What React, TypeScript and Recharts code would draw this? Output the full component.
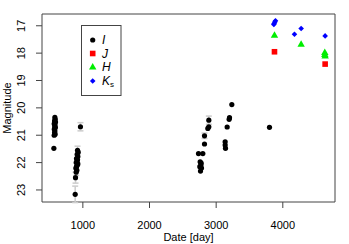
import { ScatterChart, Scatter, XAxis, YAxis, ErrorBar, ReferenceArea } from 'recharts';

// photometry (date in days, magnitude)
const iBand = [
  { date: 580, mag: 20.35 }, { date: 585, mag: 20.42 }, { date: 575, mag: 20.48 },
  { date: 590, mag: 20.52 }, { date: 570, mag: 20.58 }, { date: 582, mag: 20.62 },
  { date: 578, mag: 20.68 }, { date: 588, mag: 20.72 }, { date: 572, mag: 20.78 },
  { date: 580, mag: 20.84 }, { date: 576, mag: 20.9 }, { date: 584, mag: 20.96 },
  { date: 570, mag: 21.0 }, { date: 565, mag: 21.48 },
  { date: 964, mag: 20.69, err: 0.15 },
  { date: 920, mag: 21.55, err: 0.15 }, { date: 930, mag: 21.62 }, { date: 915, mag: 21.7 },
  { date: 925, mag: 21.78 }, { date: 905, mag: 21.85 }, { date: 920, mag: 21.9 },
  { date: 910, mag: 21.95 }, { date: 900, mag: 22.0 }, { date: 925, mag: 22.05 },
  { date: 915, mag: 22.1 }, { date: 905, mag: 22.15 }, { date: 895, mag: 22.2 },
  { date: 910, mag: 22.28 }, { date: 900, mag: 22.35, err: 0.12 },
  { date: 890, mag: 22.55, err: 0.2 }, { date: 885, mag: 23.16, err: 0.3 },
  { date: 2735, mag: 21.67 }, { date: 2800, mag: 21.67 }, { date: 2760, mag: 21.97 },
  { date: 2775, mag: 22.02 }, { date: 2770, mag: 22.1 }, { date: 2755, mag: 22.15 },
  { date: 2780, mag: 22.2 }, { date: 2765, mag: 22.31 },
  { date: 2825, mag: 21.02, err: 0.1 }, { date: 2825, mag: 21.32 },
  { date: 2875, mag: 20.75 }, { date: 2890, mag: 20.69 }, { date: 2890, mag: 20.45, err: 0.15 },
  { date: 3235, mag: 19.88 }, { date: 3200, mag: 20.36 }, { date: 3195, mag: 20.42 },
  { date: 3165, mag: 20.7 }, { date: 3135, mag: 21.24 }, { date: 3135, mag: 21.36 },
  { date: 3140, mag: 21.48 },
  { date: 3800, mag: 20.71 },
];
const jBand = [
  { date: 3875, mag: 17.95 }, { date: 4635, mag: 18.4 },
];
const hBand = [
  { date: 3875, mag: 17.34 }, { date: 4275, mag: 17.67 },
  { date: 4630, mag: 17.97 }, { date: 4630, mag: 18.05 }, { date: 4635, mag: 18.1 },
];
const kBand = [
  { date: 3865, mag: 16.95 }, { date: 3870, mag: 16.92 }, { date: 3880, mag: 16.86 },
  { date: 3890, mag: 16.82 }, { date: 4175, mag: 17.31 }, { date: 4275, mag: 17.1 },
  { date: 4635, mag: 17.37 },
];

const xTicks = [1000, 2000, 3000, 4000];
const yTicks = [17, 18, 19, 20, 21, 22, 23];
const xDomain: [number, number] = [387, 4783];
const yDomain: [number, number] = [16.57, 23.44];

const font = '"Liberation Sans", Arial, sans-serif';
const axisColor = '#444';

const dot = (p: any) => <circle cx={p.cx} cy={p.cy} r={2.6} fill="#000" />;
const square = (p: any) => <rect x={p.cx - 2.8} y={p.cy - 2.8} width={5.6} height={5.6} fill="#ff0000" />;
const triangle = (p: any) => (
  <polygon points={`${p.cx},${p.cy - 3.9} ${p.cx - 3.7},${p.cy + 2.6} ${p.cx + 3.7},${p.cy + 2.6}`} fill="#00ee00" />
);
const diamond = (p: any) => (
  <polygon points={`${p.cx},${p.cy - 2.8} ${p.cx + 2.8},${p.cy} ${p.cx},${p.cy + 2.8} ${p.cx - 2.8},${p.cy}`} fill="#0000ff" />
);

const XTick = ({ x, payload }: any) => (
  <text x={x} y={228.5} textAnchor="middle" fontSize={11} fontFamily={font} fill="#000">
    {payload.value}
  </text>
);

const YTick = ({ y, payload }: any) => (
  <text x={25} y={y} transform={`rotate(-90, 25, ${y})`} textAnchor="middle" fontSize={11} fontFamily={font} fill="#000">
    {payload.value}
  </text>
);

const XLabel = ({ viewBox }: any) => (
  <text x={viewBox.x + viewBox.width / 2} y={241} textAnchor="middle" fontSize={11} fontFamily={font} fill="#000">
    Date [day]
  </text>
);

const YLabel = ({ viewBox }: any) => {
  const cy = viewBox.y + viewBox.height / 2;
  return (
    <text x={10.5} y={cy} transform={`rotate(-90, 10.5, ${cy})`} textAnchor="middle" fontSize={11} fontFamily={font} fill="#000">
      Magnitude
    </text>
  );
};

const legendItems = [
  { label: 'I', sub: '', shape: 'circle' },
  { label: 'J', sub: '', shape: 'square' },
  { label: 'H', sub: '', shape: 'triangle' },
  { label: 'K', sub: 's', shape: 'diamond' },
];

function LegendBox() {
  const rows = [40, 53.5, 67, 81];
  return (
    <svg width={349} height={244} style={{ position: 'absolute', left: 0, top: 0, pointerEvents: 'none' }}>
      <rect x={81.5} y={25.5} width={39.5} height={70} fill="#fff" stroke={axisColor} />
      {legendItems.map((item, i) => {
        const p = { cx: 92.7, cy: rows[i] };
        const sym =
          item.shape === 'circle' ? dot(p) : item.shape === 'square' ? square(p) : item.shape === 'triangle' ? triangle(p) : diamond(p);
        return (
          <g key={item.label}>
            {sym}
            <text x={102} y={rows[i] + 4.3} fontSize={12} fontStyle="italic" fontFamily={font} fill="#000">
              {item.label}
              {item.sub && (
                <tspan fontSize={8} fontStyle="normal" dy={2}>
                  {item.sub}
                </tspan>
              )}
            </text>
          </g>
        );
      })}
    </svg>
  );
}

export default function App() {
  return (
    <div style={{ position: 'absolute', left: 0, top: 0, width: 349, height: 244, background: '#fff' }}>
      <ScatterChart width={349} height={244} margin={{ top: 14, right: 14, bottom: 0, left: 0 }}>
        <XAxis
          type="number"
          dataKey="date"
          domain={xDomain}
          ticks={xTicks}
          allowDataOverflow
          axisLine={false}
          tickSize={6}
          tickLine={{ stroke: axisColor }}
          tick={<XTick />}
          height={42}
          label={<XLabel />}
        />
        <YAxis
          type="number"
          dataKey="mag"
          reversed
          domain={yDomain}
          ticks={yTicks}
          allowDataOverflow
          axisLine={false}
          tickSize={6}
          tickLine={{ stroke: axisColor }}
          tick={<YTick />}
          width={42}
          label={<YLabel />}
        />
        <ReferenceArea x1={xDomain[0]} x2={xDomain[1]} y1={yDomain[0]} y2={yDomain[1]} fill="none" stroke={axisColor} strokeOpacity={1} />
        <Scatter data={iBand} shape={dot} isAnimationActive={false}>
          <ErrorBar dataKey="err" direction="y" stroke="#cccccc" width={3} />
        </Scatter>
        <Scatter data={jBand} shape={square} isAnimationActive={false} />
        <Scatter data={hBand} shape={triangle} isAnimationActive={false} />
        <Scatter data={kBand} shape={diamond} isAnimationActive={false} />
      </ScatterChart>
      <LegendBox />
    </div>
  );
}
